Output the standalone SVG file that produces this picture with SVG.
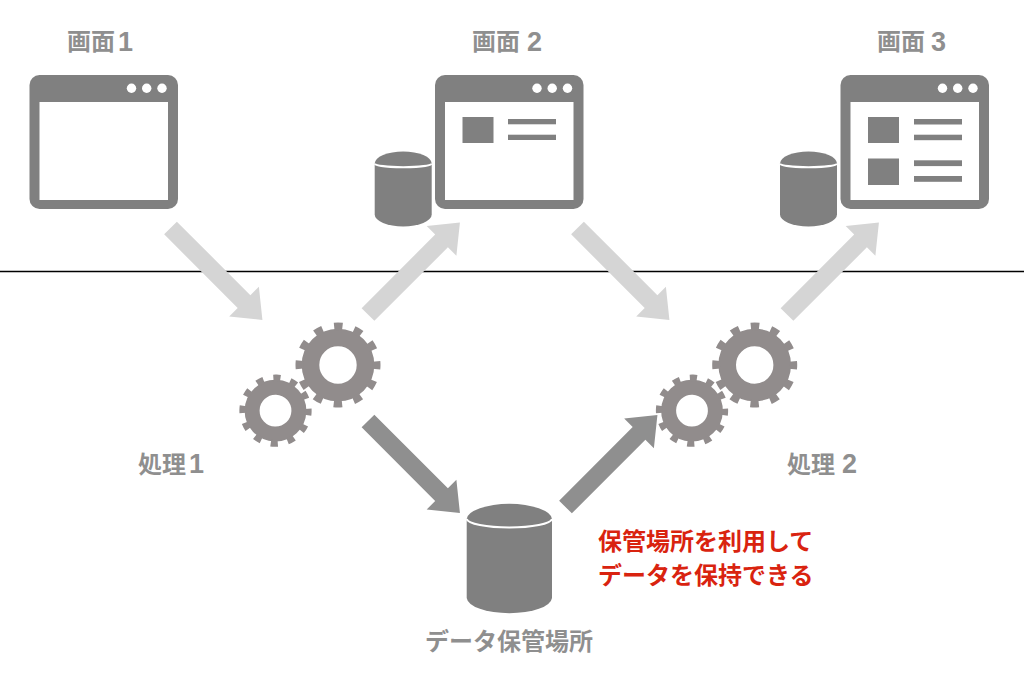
<svg xmlns="http://www.w3.org/2000/svg" width="1024" height="688" viewBox="0 0 1024 688">
<style>
text{font-family:"Noto Sans CJK JP","Liberation Sans",sans-serif;font-weight:700;font-size:24px}
.d{font-family:"Liberation Sans",sans-serif;font-size:27px}
.lab{fill:#8f8f8f}
.red{fill:#d9230f}
.f{fill:#808080}
.w{fill:#fff}
.al{fill:#d5d5d5}
.ad{fill:#8f8f8f}
.ring{fill:none;stroke:#918c8c;stroke-width:17.6}
.teeth{fill:none;stroke:#918c8c;stroke-width:8;stroke-dasharray:8.4 11.76;stroke-dashoffset:4.2}
.rim{fill:none;stroke:#fff;stroke-width:2}
</style>
<defs>
<polygon id="arrow" points="0,-9 104,-9 104,-21 130,0 104,21 104,9 0,9"/>
<g id="gear">
<circle class="ring" r="27.5"/>
<circle class="teeth" r="38.5"/>
</g>
<g id="win">
<rect class="f" x="0" y="0" width="148.500" height="134" rx="10"/>
<rect class="w" x="10" y="27" width="128.500" height="98"/>
<circle class="w" cx="102" cy="13.300" r="4.700"/>
<circle class="w" cx="117.200" cy="13.300" r="4.700"/>
<circle class="w" cx="132.500" cy="13.300" r="4.700"/>
</g>
<g id="cyl">
<path class="f" d="M0,12 A28.500,12 0 0 1 57,12 V63 A28.500,12 0 0 1 0,63 Z"/>
<path class="rim" d="M0,12 A28.500,3.700 0 0 0 57,12"/>
</g>
</defs>
<line x1="0" y1="271.500" x2="1024" y2="271.500" stroke="#000" stroke-width="1.500"/>
<g id="connectors">
<use href="#arrow" class="al" transform="translate(170.500,228) rotate(45)"/>
<use href="#arrow" class="al" transform="translate(368,314.500) rotate(-45)"/>
<use href="#arrow" class="al" transform="translate(577.500,228) rotate(45)"/>
<use href="#arrow" class="al" transform="translate(787,314.500) rotate(-45)"/>
<use href="#arrow" class="ad" transform="translate(368,421) rotate(45)"/>
<use href="#arrow" class="ad" transform="translate(565.500,507) rotate(-45)"/>
</g>
<g id="screen1">
<text class="lab" x="67" y="50">画面<tspan class="d" x="118" y="51">1</tspan></text>
<use href="#win" transform="translate(29.500,75)"/>
</g>
<g id="screen2">
<text class="lab" x="472" y="50">画面<tspan class="d" x="527" y="51">2</tspan></text>
<use href="#win" transform="translate(435,75)"/>
<rect class="f" x="462.500" y="117" width="31" height="26"/>
<rect class="f" x="508" y="119" width="48" height="5.300"/>
<rect class="f" x="508" y="134.700" width="48" height="5.300"/>
<use href="#cyl" transform="translate(374.700,151.500)"/>
</g>
<g id="screen3">
<text class="lab" x="877" y="50">画面<tspan class="d" x="931" y="51">3</tspan></text>
<use href="#win" transform="translate(840.500,75)"/>
<rect class="f" x="868" y="117" width="31" height="26"/>
<rect class="f" x="868" y="158.500" width="31" height="26.500"/>
<rect class="f" x="914" y="119" width="48" height="5.500"/>
<rect class="f" x="914" y="134.700" width="48" height="5.500"/>
<rect class="f" x="914" y="160.300" width="48" height="5.800"/>
<rect class="f" x="914" y="176" width="48" height="5.800"/>
<use href="#cyl" transform="translate(780,151.500)"/>
</g>
<g id="process1">
<use href="#gear" transform="translate(338,365)"/>
<use href="#gear" transform="translate(275.500,410.700) rotate(2) scale(.85)"/>
<text class="lab" x="138" y="473">処理<tspan class="d" x="189" y="473">1</tspan></text>
</g>
<g id="process2">
<use href="#gear" transform="translate(754.700,365)"/>
<use href="#gear" transform="translate(692,410.700) rotate(2) scale(.85)"/>
<text class="lab" x="787" y="473">処理<tspan class="d" x="842" y="473">2</tspan></text>
</g>
<g id="storage">
<path class="f" d="M466.700,519 A42.700,16 0 0 1 552,519 V598 A42.700,16 0 0 1 466.700,598 Z"/>
<path class="rim" d="M466.700,519 A42.700,9 0 0 0 552,519"/>
<text class="lab" x="425" y="650">データ保管場所</text>
</g>
<g id="note">
<text class="red" x="598" y="550">保管場所を利用して</text>
<text class="red" x="598" y="584">データを保持できる</text>
</g>
</svg>
